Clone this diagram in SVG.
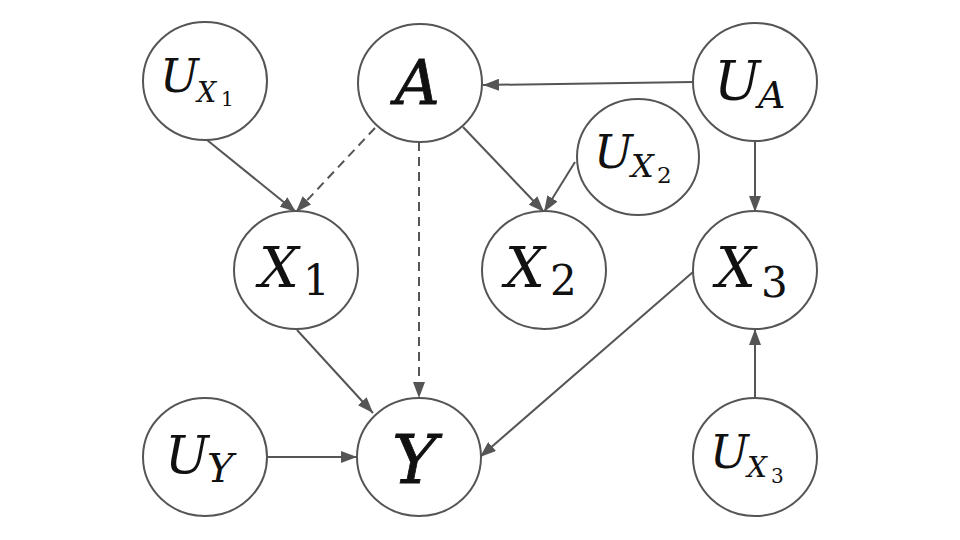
<svg xmlns="http://www.w3.org/2000/svg" width="960" height="540" viewBox="0 0 960 540">
<defs>
<marker id="ah" viewBox="0 0 16 12" refX="16" refY="6" markerWidth="16" markerHeight="12" markerUnits="userSpaceOnUse" orient="auto">
<path d="M0,0 L16,6 L0,12 z" fill="#555"/>
</marker>
<style>
.n{fill:#fff;stroke:#555;stroke-width:2}
.t{font-family:'DejaVu Serif','Liberation Serif',serif;font-style:italic;fill:#111}
.b{stroke:#111;stroke-width:0.8}
.d{font-style:normal}
.e{stroke:#555;stroke-width:2;fill:none;marker-end:url(#ah)}
.dash{stroke-dasharray:9 6}
</style>
</defs>
<rect width="960" height="540" fill="#fff"/>
<g id="connectors">
<line class="e" x1="207" y1="140" x2="296" y2="212"/>
<line class="e dash" x1="375" y1="128" x2="296" y2="212"/>
<line class="e dash" x1="419" y1="142" x2="419" y2="398"/>
<line class="e" x1="463" y1="127" x2="544" y2="212"/>
<line class="e" x1="575" y1="162" x2="544" y2="212"/>
<line class="e" x1="693" y1="82" x2="483" y2="85"/>
<line class="e" x1="755" y1="141" x2="755" y2="212"/>
<line class="e" x1="297" y1="330" x2="373" y2="413"/>
<line class="e" x1="693" y1="272" x2="480" y2="457"/>
<line class="e" x1="267" y1="457" x2="357" y2="457"/>
<line class="e" x1="755" y1="399" x2="755" y2="329"/>
</g>
<g id="node-UX1">
<ellipse class="n" cx="205" cy="81" rx="62" ry="59"/>
<text class="t"><tspan x="160" y="92" font-size="46">U</tspan><tspan x="197" y="102" font-size="27">X</tspan><tspan class="d" x="221" y="106" font-size="20">1</tspan></text>
</g>
<g id="node-A">
<ellipse class="n" cx="420" cy="83" rx="62" ry="59"/>
<text class="t b" x="395" y="104" font-size="62">A</text>
</g>
<g id="node-UA">
<ellipse class="n" cx="755" cy="82" rx="62" ry="59"/>
<text class="t"><tspan x="714" y="100" font-size="55">U</tspan><tspan x="758" y="108" font-size="38">A</tspan></text>
</g>
<g id="node-UX2">
<ellipse class="n" cx="638" cy="157" rx="61" ry="58"/>
<text class="t"><tspan x="594" y="168" font-size="46">U</tspan><tspan x="631" y="177" font-size="32">X</tspan><tspan class="d" x="657" y="183" font-size="23">2</tspan></text>
</g>
<g id="node-X1">
<ellipse class="n" cx="296" cy="270" rx="62" ry="59"/>
<text class="t"><tspan x="259" y="287" font-size="56">X</tspan><tspan class="d" x="303" y="295" font-size="42">1</tspan></text>
</g>
<g id="node-X2">
<ellipse class="n" cx="544" cy="270" rx="62" ry="59"/>
<text class="t"><tspan x="505" y="287" font-size="56">X</tspan><tspan class="d" x="550" y="295" font-size="42">2</tspan></text>
</g>
<g id="node-X3">
<ellipse class="n" cx="755" cy="270" rx="62" ry="59"/>
<text class="t"><tspan x="716" y="287" font-size="56">X</tspan><tspan class="d" x="761" y="297" font-size="42">3</tspan></text>
</g>
<g id="node-UY">
<ellipse class="n" cx="205" cy="457" rx="62" ry="59"/>
<text class="t"><tspan x="165" y="473" font-size="52">U</tspan><tspan x="207" y="482" font-size="40">Y</tspan></text>
</g>
<g id="node-Y">
<ellipse class="n" cx="419" cy="457" rx="62" ry="59"/>
<text class="t b" x="392" y="483" font-size="68">Y</text>
</g>
<g id="node-UX3">
<ellipse class="n" cx="755" cy="457" rx="62" ry="59"/>
<text class="t"><tspan x="710" y="468" font-size="46">U</tspan><tspan x="747" y="477" font-size="28">X</tspan><tspan class="d" x="771" y="483" font-size="20">3</tspan></text>
</g>
</svg>
